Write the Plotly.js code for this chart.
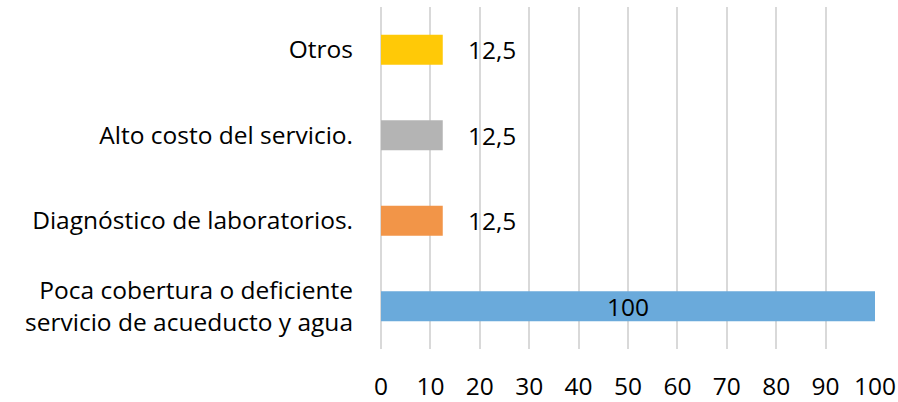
<!DOCTYPE html>
<html>
<head>
<meta charset="utf-8">
<script src="https://cdn.plot.ly/plotly-3.0.1.min.js"></script>
<style>
  html, body { margin: 0; padding: 0; background: #fff; }
  #chart { width: 898px; height: 402px; }
</style>
</head>
<body>
<div id="chart"></div>
<script>
// categories bottom -> top
const categories = [
  'Poca cobertura o deficiente<br>servicio de acueducto y agua',
  'Diagnóstico de laboratorios.',
  'Alto costo del servicio.',
  'Otros'
];
const values = [100, 12.5, 12.5, 12.5];
const barColors = ['#6AAADB', '#F29548', '#B4B4B4', '#FFC907'];
const xTicks = [0, 10, 20, 30, 40, 50, 60, 70, 80, 90, 100];

const fmt = (v) => String(v).replace('.', ',');
const FONT = '"Open Sans", sans-serif';
const FS = 24.5;

const trace = {
  type: 'bar',
  orientation: 'h',
  y: categories,
  x: values,
  marker: {color: barColors},
  // big bars get their label inside, the short ones get an annotation
  text: values.map(v => v >= 50 ? fmt(v) : ''),
  textposition: 'inside',
  insidetextanchor: 'middle',
  constraintext: 'none',
  textfont: {family: FONT, size: FS, color: '#000'},
  hoverinfo: 'x+y'
};

const annotations = values
  .map((v, i) => ({v, i}))
  .filter(d => d.v < 50)
  .map(d => ({
    x: d.v,
    y: categories[d.i],
    xref: 'x',
    yref: 'y',
    text: fmt(d.v),
    showarrow: false,
    xanchor: 'left',
    xshift: 23,
    font: {family: FONT, size: FS, color: '#000'}
  }));

const layout = {
  width: 898,
  height: 402,
  margin: {l: 381, r: 23, t: 7, b: 53},
  paper_bgcolor: '#fff',
  plot_bgcolor: '#fff',
  showlegend: false,
  bargap: 0.65,
  separators: ',.',
  font: {family: FONT, size: FS, color: '#000'},
  xaxis: {
    range: [0, 100],
    tickvals: xTicks,
    showgrid: true,
    gridcolor: '#D9D9D9',
    gridwidth: 1.5,
    zeroline: true,
    zerolinecolor: '#D9D9D9',
    zerolinewidth: 1.5,
    showline: false,
    ticks: '',
    ticklabelstandoff: 20,
    tickfont: {family: FONT, size: FS, color: '#000'}
  },
  yaxis: {
    type: 'category',
    showgrid: false,
    zeroline: false,
    showline: false,
    ticks: '',
    ticklabelstandoff: 27,
    tickfont: {family: FONT, size: FS, color: '#000'}
  },
  annotations: annotations
};

Plotly.newPlot('chart', [trace], layout, {displayModeBar: false, responsive: false});
</script>
</body>
</html>
